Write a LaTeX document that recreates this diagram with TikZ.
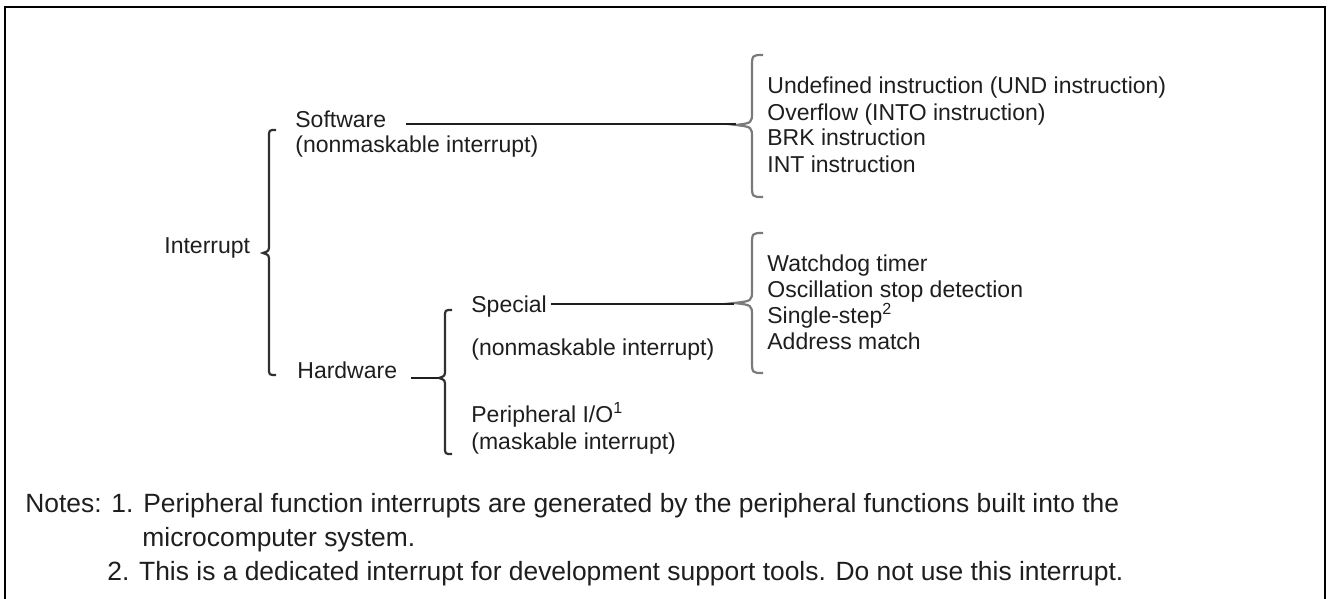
\documentclass[tikz,border=0pt]{standalone}
\usepackage{fontspec}
\setmainfont{Liberation Sans}
\definecolor{ink}{HTML}{1E1E1E}
\definecolor{bracedark}{HTML}{303030}
\definecolor{bracelight}{HTML}{7A7A7A}
% curly brace opening to the right:
% style, body x, top y, bottom y, tip x, tip y, hook x, hook length, tip length
\newcommand{\drawbrace}[9]{%
  \draw[#1] (#7,#3) .. controls (#2,#3) .. (#2,#3+#8)
    -- (#2,#6-#9) .. controls (#2,#6-2) .. (#5,#6)
    .. controls (#2,#6+2) .. (#2,#6+#9)
    -- (#2,#4-#8) .. controls (#2,#4) .. (#7,#4);}
\begin{document}
\begin{tikzpicture}[x=0.5pt,y=-0.5pt,
  lbl/.style={inner sep=0pt,anchor=base west,text=ink,font=\fontsize{11.5}{13}\selectfont},
  note/.style={inner sep=0pt,anchor=base west,text=ink,font=\fontsize{13.2}{15}\selectfont},
  link/.style={draw=ink,line width=1.3pt},
  bracel/.style={draw=bracedark,line width=1.1pt},
  bracer/.style={draw=bracelight,line width=1.1pt},
  frame/.style={draw=black,line width=1.4pt}]
\useasboundingbox (0,0) rectangle (1328,599);

% open frame (no bottom edge)
\draw[frame] (5,599) -- (5,7) -- (1325,7) -- (1325,599);

% left-hand tree
\node[lbl] (intr) at (164,253) {Interrupt};
\node[lbl] (sw) at (295,127) {Software};
\node[lbl] (swsub) at (295,153) {(nonmaskable interrupt)};
\node[lbl] (hw) at (297,378) {Hardware};
\node[lbl] (spec) at (471,312) {Special};
\node[lbl] (specsub) at (471,355) {(nonmaskable interrupt)};
\node[lbl] (periph) at (471,422) {Peripheral I/O\textsuperscript{1}};
\node[lbl] (periphsub) at (471,449) {(maskable interrupt)};

% right-hand lists
\node[lbl] (und) at (767,94) {Undefined instruction (UND instruction)};
\node[lbl] (ovf) at (767,120) {Overflow (INTO instruction)};
\node[lbl] (brk) at (767,146) {BRK instruction};
\node[lbl] (inti) at (767,172) {INT instruction};
\node[lbl] (wdt) at (767,271) {Watchdog timer};
\node[lbl] (osc) at (767,297) {Oscillation stop detection};
\node[lbl] (sstep) at (767,323) {Single-step\textsuperscript{2}};
\node[lbl] (addr) at (767,349) {Address match};

% braces
\drawbrace{bracel}{269}{130}{375}{263}{253}{276}{7}{9}
\drawbrace{bracel}{445}{310}{454}{439}{378}{452}{7}{9}
\drawbrace{bracer}{752}{55}{197}{736}{125}{763}{13}{13}
\drawbrace{bracer}{752}{233}{373}{734}{303}{763}{13}{13}

% brace tips and line starts
\coordinate (swstart) at (406,124);
\coordinate (swtip) at (736,124);
\coordinate (specstart) at (551,304);
\coordinate (spectip) at (734,304);
\coordinate (hwstart) at (411,378);
\coordinate (hwtip) at (439,378);

\draw[link] (swstart) -- (swtip);
\draw[link] (specstart) -- (spectip);
\draw[link] (hwstart) -- (hwtip);

% notes
\node[note] (note1) at (25,512) {Notes: 1. Peripheral function interrupts are generated by the peripheral functions built into the};
\node[note] (note1b) at (142,546) {microcomputer system.};
\node[note] (note2) at (107,580) {2. This is a dedicated interrupt for development support tools. Do not use this interrupt.};
\end{tikzpicture}
\end{document}
